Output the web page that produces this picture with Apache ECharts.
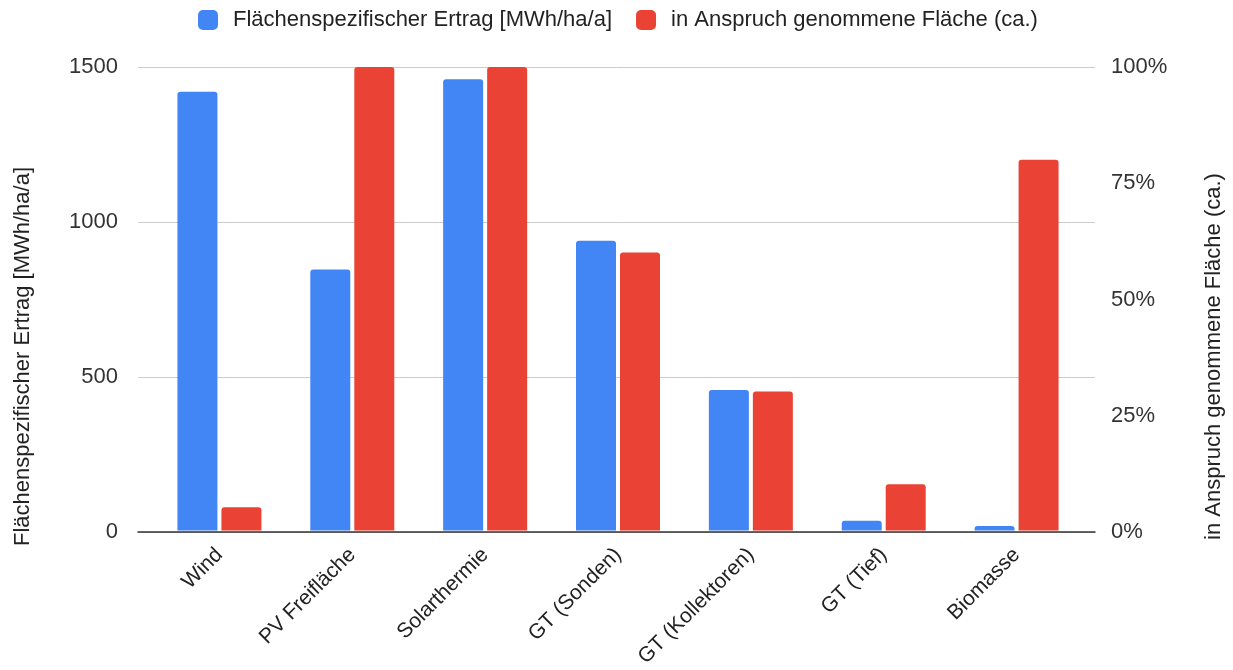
<!DOCTYPE html>
<html><head><meta charset="utf-8">
<script src="https://cdn.jsdelivr.net/npm/echarts@6/dist/echarts.min.js"></script>
<style>html,body{margin:0;padding:0;background:#fff}#c{width:1233px;height:670px}</style>
</head><body><div id="c"></div>
<script>
const categories = ['Wind','PV Freifläche','Solarthermie','GT (Sonden)','GT (Kollektoren)','GT (Tief)','Biomasse'];
const ertrag = [1420, 845, 1460, 938, 455, 32, 15];
const flaeche = [5, 100, 100, 60, 30, 10, 80];
const leftTicks = [0, 500, 1000, 1500];
const rightTicks = [0, 25, 50, 75, 100];
const seriesNames = ['Flächenspezifischer Ertrag [MWh/ha/a]', 'in Anspruch genommene Fläche (ca.)'];

const chart = echarts.init(document.getElementById('c'), null, {renderer:'canvas'});
const font = '"Liberation Sans", Arial, sans-serif';
const fs = 22;
chart.setOption({
  animation:false,
  textStyle:{fontFamily:font},
  legend:{top:4,left:193,itemWidth:20,itemHeight:20,itemGap:24,
    icon:'roundRect',
    textStyle:{fontSize:fs,color:'#222',fontFamily:font,padding:[0,0,0,10]},data:seriesNames},
  grid:[
    {left:138,right:125,top:67,bottom:138,containLabel:false},
    {left:153,right:150,top:67,bottom:138,containLabel:false}
  ],
  xAxis:[
    {type:'category',gridIndex:0,data:categories,
     axisLine:{lineStyle:{color:'#333',width:1.5}},axisTick:{show:false},axisLabel:{show:false}},
    {type:'category',gridIndex:1,data:categories,
     axisLine:{show:false},axisTick:{show:false},
     axisLabel:{rotate:45,fontSize:21,color:'#222',margin:21,interval:0,fontFamily:font}}
  ],
  yAxis:[
    {type:'value',gridIndex:0,min:leftTicks[0],max:leftTicks[leftTicks.length-1],interval:500,
     name:seriesNames[0],nameLocation:'middle',nameGap:104,nameRotate:90,
     nameTextStyle:{fontSize:fs,color:'#222',fontFamily:font,padding:[0,114,0,0]},
     axisLabel:{fontSize:fs,color:'#333',margin:20,fontFamily:font,formatter:v=>String(v)},
     axisLine:{show:false},axisTick:{show:false},
     splitLine:{lineStyle:{color:'#ccc',width:1}}},
    {type:'value',gridIndex:0,min:rightTicks[0],max:rightTicks[rightTicks.length-1],interval:25,
     name:seriesNames[1],nameLocation:'middle',nameGap:108,nameRotate:90,
     nameTextStyle:{fontSize:fs,color:'#222',fontFamily:font,padding:[0,114,0,0]},
     axisLabel:{fontSize:fs,color:'#333',margin:16,formatter:v=>v+'%',fontFamily:font},
     axisLine:{show:false},axisTick:{show:false},splitLine:{show:false}},
    {type:'value',gridIndex:1,min:leftTicks[0],max:leftTicks[leftTicks.length-1],show:false,splitLine:{show:false}},
    {type:'value',gridIndex:1,min:rightTicks[0],max:rightTicks[rightTicks.length-1],show:false,splitLine:{show:false}}
  ],
  series:[
    {name:seriesNames[0],type:'bar',xAxisIndex:1,yAxisIndex:2,data:ertrag,barWidth:40,barGap:'10%',
     itemStyle:{color:'#4285F4',borderRadius:[3,3,0,0]}},
    {name:seriesNames[1],type:'bar',xAxisIndex:1,yAxisIndex:3,data:flaeche,barWidth:40,
     itemStyle:{color:'#EA4335',borderRadius:[3,3,0,0]}}
  ]
});
</script></body></html>
